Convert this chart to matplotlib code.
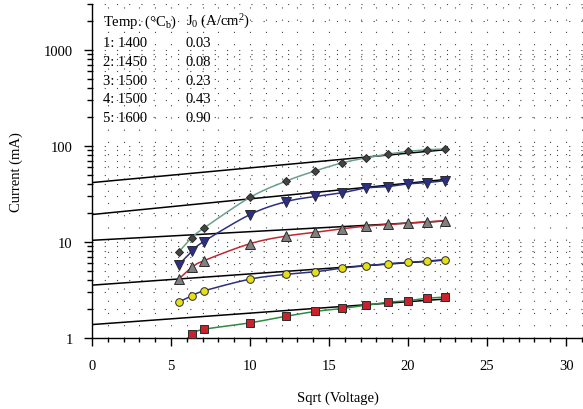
import numpy as np
import matplotlib
matplotlib.use("Agg")
import matplotlib.pyplot as plt
from matplotlib.ticker import MultipleLocator, LogLocator, NullFormatter

# ---- data ----
sqrt_v = [5.48, 6.32, 7.07, 10.0, 12.25, 14.14, 15.81, 17.32, 18.71, 20.0, 21.21, 22.36]

cur_1 = [None, 1.11, 1.23, 1.44, 1.68, 1.89, 2.03, 2.19, 2.35, 2.45, 2.59, 2.67]
cur_2 = [2.37, 2.74, 3.09, 4.10, 4.59, 4.89, 5.34, 5.65, 5.93, 6.12, 6.32, 6.53]
cur_3 = [4.10, 5.43, 6.37, 9.59, 11.5, 12.6, 13.7, 14.6, 15.2, 15.7, 16.1, 16.6]
cur_4 = [5.78, 7.98, 10.1, 19.3, 26.2, 29.8, 32.5, 36.4, 37.7, 40.2, 41.5, 43.5]
cur_5 = [7.82, 11.1, 13.9, 29.1, 42.8, 55.0, 66.4, 75.0, 82.0, 87.6, 91.0, 93.0]

# Schottky fit lines: I = I0 * 10**(k * sqrt(V))
fit_i0 = [1.38, 3.55, 10.4, 19.3, 41.5]
fit_k = [0.0119, 0.0117, 0.0090, 0.0163, 0.0153]

temps = ["1: 1400", "2: 1450", "3: 1500", "4: 1500", "5: 1600"]
j0 = ["0.03", "0.08", "0.23", "0.43", "0.90"]

# ---- style ----
SERIES_STYLE = [
    dict(marker="s", mfc="#c8232c", line="#2e8b40", ms=5.5),
    dict(marker="o", mfc="#e6e01a", line="#2c2f7c", ms=5.5),
    dict(marker="^", mfc="#808080", line="#c0282d", ms=6.5),
    dict(marker="v", mfc="#2b2f85", line="#2b2f85", ms=6.5),
    dict(marker="D", mfc="#444444", line="#6aa08a", ms=4.5),
]


def smooth_path(xs, ys, n=12):
    # Catmull-Rom curve through the points (in log-y), only for drawing
    ly = np.log10(ys)
    px = np.concatenate([[2 * xs[0] - xs[1]], xs, [2 * xs[-1] - xs[-2]]])
    py = np.concatenate([[2 * ly[0] - ly[1]], ly, [2 * ly[-1] - ly[-2]]])
    out_x, out_y = [], []
    t = np.linspace(0, 1, n, endpoint=False)
    for i in range(1, len(px) - 2):
        for arr, out in ((px, out_x), (py, out_y)):
            p0, p1, p2, p3 = arr[i - 1], arr[i], arr[i + 1], arr[i + 2]
            out.extend(0.5 * (2 * p1 + (-p0 + p2) * t
                              + (2 * p0 - 5 * p1 + 4 * p2 - p3) * t ** 2
                              + (-p0 + 3 * p1 - 3 * p2 + p3) * t ** 3))
    out_x.append(xs[-1])
    out_y.append(ly[-1])
    return np.array(out_x), 10 ** np.array(out_y)


plt.rcParams["font.family"] = ["Liberation Serif", "DejaVu Serif"]
plt.rcParams["mathtext.fontset"] = "custom"
plt.rcParams["mathtext.rm"] = "Liberation Serif"
plt.rcParams["mathtext.it"] = "Liberation Serif:italic"
plt.rcParams["font.size"] = 10.5

fig = plt.figure(figsize=(5.83, 4.10), dpi=100)
ax = fig.add_axes([92 / 583, 71 / 410, 491 / 583, 334 / 410])

ax.set_yscale("log")
ax.set_xlim(0, 31.07)
ax.set_ylim(1, 3000)

# dotted background grid
ax.xaxis.set_minor_locator(MultipleLocator(1))
ax.yaxis.set_minor_locator(LogLocator(base=10, subs=np.arange(2, 10)))
ax.yaxis.set_minor_formatter(NullFormatter())
ax.grid(True, which="both", axis="both", color="#444444", linewidth=0.8,
        linestyle=(0, (1, 10)))
ax.set_axisbelow(True)

all_series = [cur_1, cur_2, cur_3, cur_4, cur_5]
for vals, st, i0, k in zip(all_series, SERIES_STYLE, fit_i0, fit_k):
    xs = np.array([x for x, v in zip(sqrt_v, vals) if v is not None])
    ys = np.array([v for v in vals if v is not None])
    # fit line
    xf = np.array([0, sqrt_v[-1]])
    ax.plot(xf, i0 * 10 ** (k * xf), color="black", lw=1.1, zorder=3)
    # measured curve
    sx, sy = smooth_path(xs, ys)
    ax.plot(sx, sy, color=st["line"], lw=1.1, zorder=4)
    ax.plot(xs, ys, linestyle="none", marker=st["marker"], ms=st["ms"],
            mfc=st["mfc"], mec="#2a2a2a", mew=0.7, zorder=5)

# axes look
for side in ["top", "right"]:
    ax.spines[side].set_visible(False)
ax.spines["left"].set_linewidth(1.0)
ax.spines["bottom"].set_linewidth(1.0)

ax.set_xticks([0, 5, 10, 15, 20, 25, 30])
ax.set_yticks([1, 10, 100, 1000])
ax.set_yticklabels(["1", "10", "100", "1000"])
ax.tick_params(axis="x", which="major", direction="out", length=5.8, width=1, pad=9)
ax.tick_params(axis="x", which="minor", direction="out", length=3, width=1)
ax.tick_params(axis="y", which="major", direction="out", length=5.8, width=1, pad=8)
ax.tick_params(axis="y", which="minor", direction="out", length=3.6, width=1)

ax.set_xlabel("Sqrt (Voltage)", labelpad=14)
ax.set_ylabel("Current (mA)", labelpad=15)

# table of temperatures / J0
ax.text(0.022, 0.949, "Temp. (°C$_\\mathrm{b}$)", transform=ax.transAxes, va="center")
ax.text(0.191, 0.949, "J$_\\mathrm{0}$ (A/cm$^\\mathrm{2}$)", transform=ax.transAxes, va="center")
row_y = [0.886, 0.829, 0.772, 0.716, 0.660]
for yy, t, j in zip(row_y, temps, j0):
    ax.text(0.022, yy, t, transform=ax.transAxes, va="center")
    ax.text(0.191, yy, j, transform=ax.transAxes, va="center")

fig.savefig("out.png", dpi=100)
